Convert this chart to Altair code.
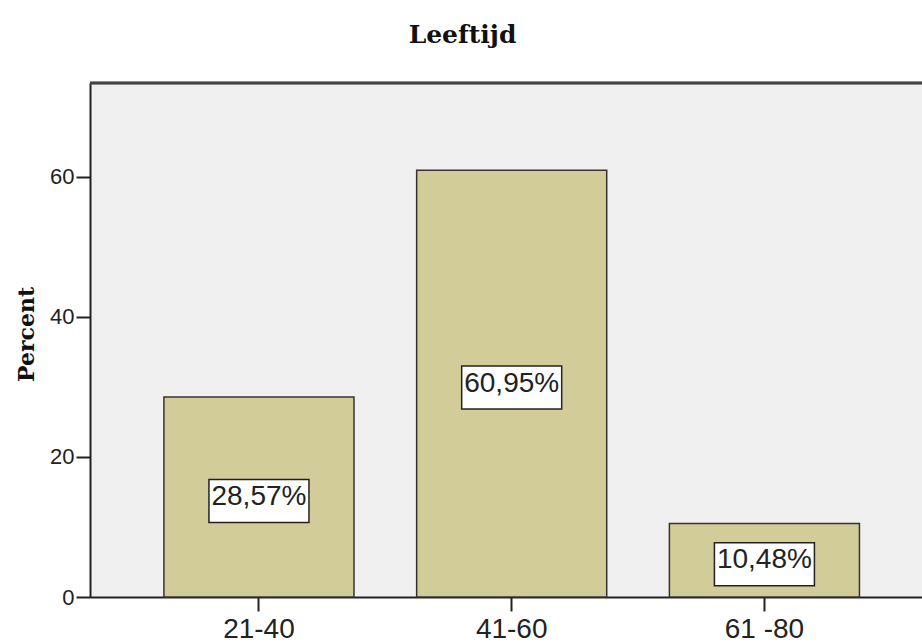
import altair as alt
import pandas as pd

categories = ["21-40", "41-60", "61 -80"]
percents = [28.57, 60.95, 10.48]
labels = [f"{v:.2f}".replace(".", ",") + "%" for v in percents]
y_ticks = [0, 20, 40, 60]

df = pd.DataFrame({"cat": categories, "pct": percents, "label": labels})
df["mid"] = df["pct"] / 2

W, H = 832, 514

x_scale = alt.Scale(domain=categories, paddingInner=0.248, paddingOuter=0.27, align=0.5417)
y_scale = alt.Scale(domain=[0, 73.4], nice=False, zero=True)

x_axis = alt.Axis(title=None, labelAngle=0, labelFont="Liberation Sans", labelFontSize=28,
                  labelColor="#222", tickSize=14, tickColor="#222", tickWidth=2,
                  domainColor="#222", domainWidth=2, labelPadding=4)
y_axis = alt.Axis(title="Percent", values=y_ticks, grid=False, labelFont="Liberation Sans",
                  labelFontSize=22, labelColor="#222", tickSize=14, tickColor="#222",
                  tickWidth=2, domainColor="#222", domainWidth=2, labelPadding=2,
                  titleFont="DejaVu Serif", titleFontSize=22, titleFontWeight="bold",
                  titleColor="#111", titleX=-57, titleY=251, titleAngle=270,
                  titleBaseline="alphabetic", titleAlign="center")

bars = alt.Chart(df).mark_bar(fill="#d2cd98", stroke="#333", strokeWidth=1.5).encode(
    x=alt.X("cat:N", scale=x_scale, sort=categories, axis=x_axis),
    y=alt.Y("pct:Q", scale=y_scale, axis=y_axis),
)

boxes = alt.Chart(df).mark_point(
    shape="M-1,-0.43L1,-0.43L1,0.43L-1,0.43Z", size=10000, filled=True,
    fill="white", stroke="#222", strokeWidth=1.5, opacity=1, yOffset=4,
).encode(
    x=alt.X("cat:N", scale=x_scale, sort=categories, axis=x_axis),
    y=alt.Y("mid:Q", scale=y_scale, axis=y_axis),
)

texts = alt.Chart(df).mark_text(
    font="Liberation Sans", fontSize=28, color="#222", baseline="middle", align="center"
).encode(
    x=alt.X("cat:N", scale=x_scale, sort=categories, axis=x_axis),
    y=alt.Y("mid:Q", scale=y_scale, axis=y_axis),
    text="label:N",
)

top_rule = alt.Chart(df).mark_rule(color="#444", strokeWidth=2.5).encode(
    y=alt.value(0), x=alt.value(0), x2=alt.value(W)
)

chart = alt.layer(bars, boxes, texts, top_rule).properties(
    width=W, height=H,
    autosize=alt.AutoSizeParams(type="none"),
    padding={"left": 90, "top": 83, "right": 0, "bottom": 643 - 83 - H},
    title=alt.TitleParams("Leeftijd", font="DejaVu Serif", fontSize=25, fontWeight="bold",
                          color="#111", anchor="middle", frame="group", dx=-43.5,
                          offset=14, baseline="alphabetic"),
).configure_view(fill="#f0f0f0", stroke="transparent")

chart.save("out.html", embed_options={"renderer": "svg", "actions": False})
